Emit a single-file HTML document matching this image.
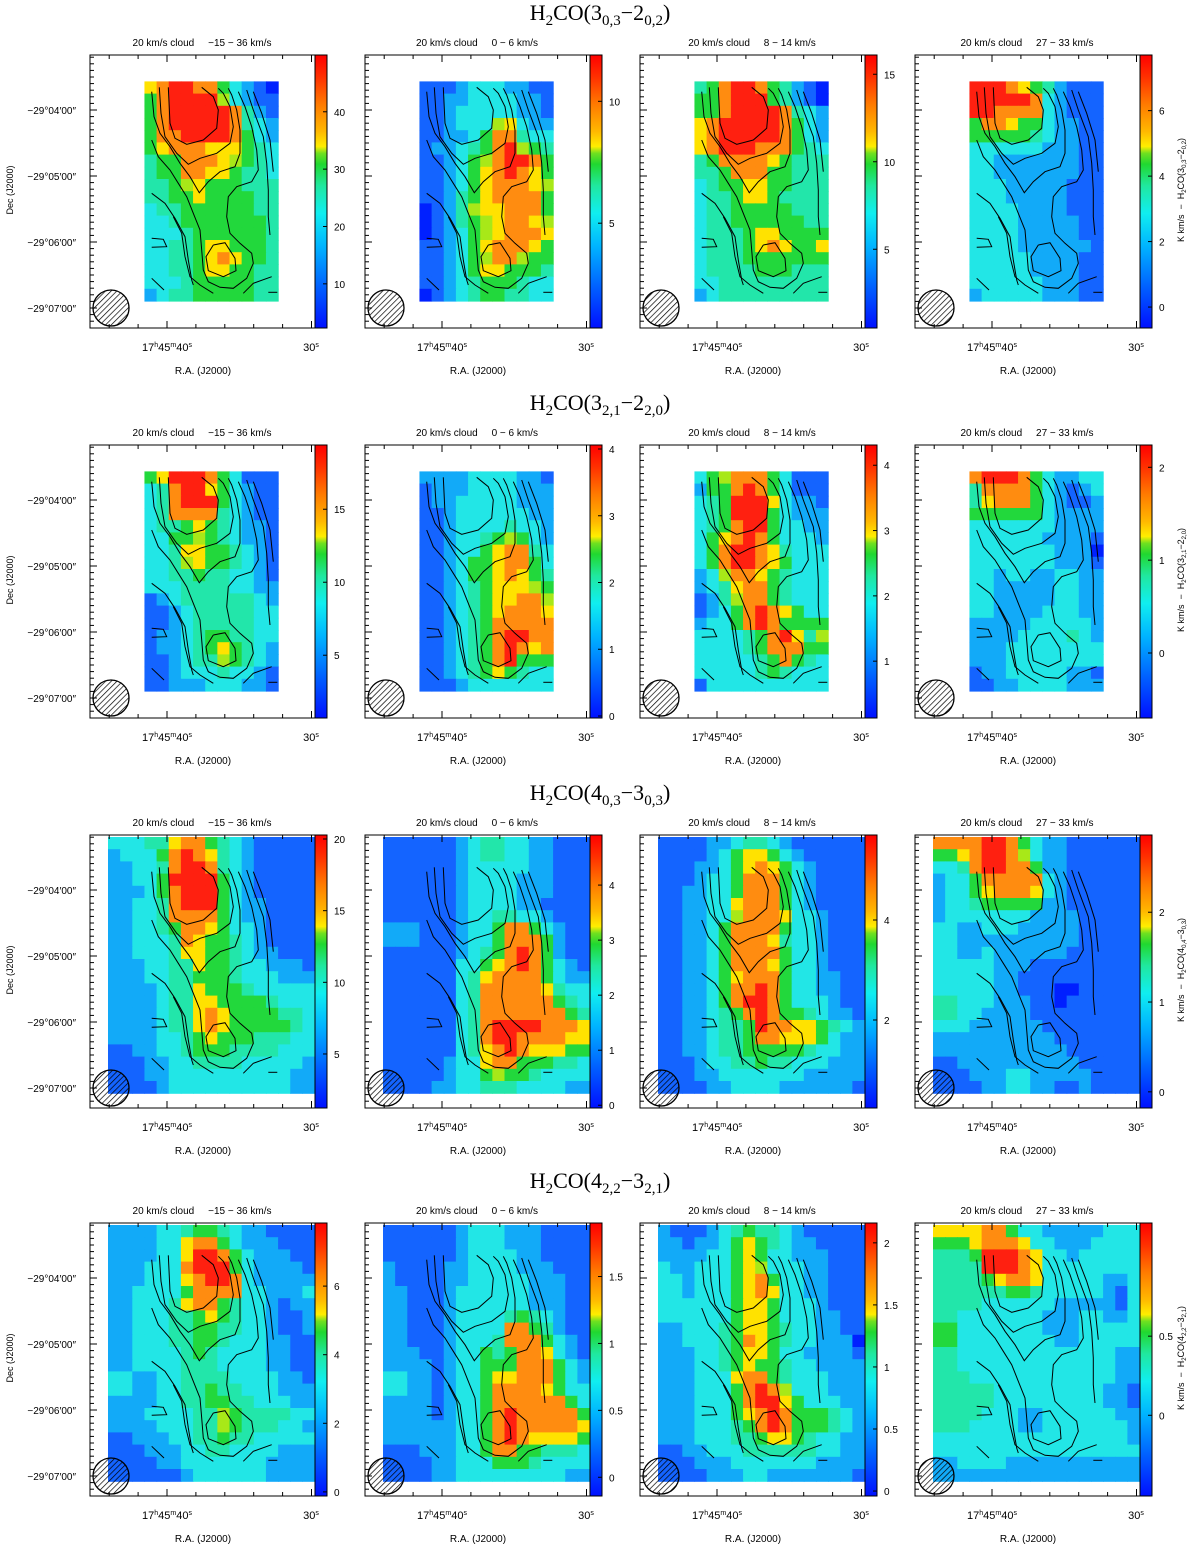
<!DOCTYPE html>
<html><head><meta charset="utf-8"><style>
html,body{margin:0;padding:0;background:#fff;width:1200px;height:1545px;overflow:hidden}
svg text{font-family:"Liberation Sans",sans-serif}
svg text.ttl{font-family:"Liberation Serif",serif}
svg text.pre{white-space:pre}
</style></head><body>
<svg id="fig" width="1200" height="1545" viewBox="0 0 1200 1545" xmlns="http://www.w3.org/2000/svg">
<defs>
<pattern id="hatch" patternUnits="userSpaceOnUse" width="4" height="4" patternTransform="rotate(45)"><line x1="0" y1="0" x2="0" y2="4" stroke="#000" stroke-width="1.4"/></pattern>
<linearGradient id="cmap" x1="0" y1="1" x2="0" y2="0">
<stop offset="0" stop-color="#0010ff"/><stop offset="0.15" stop-color="#0060ff"/><stop offset="0.3" stop-color="#00b4ff"/><stop offset="0.42" stop-color="#10eef0"/><stop offset="0.52" stop-color="#20e8a0"/><stop offset="0.6" stop-color="#20d830"/><stop offset="0.64" stop-color="#70e020"/><stop offset="0.665" stop-color="#ffee00"/><stop offset="0.72" stop-color="#ffb800"/><stop offset="0.82" stop-color="#ff7a00"/><stop offset="0.92" stop-color="#ff3000"/><stop offset="1" stop-color="#ff0000"/>
</linearGradient>
</defs>
</svg>
<script>
// ---- data ----
const rowTitles = [["3","0,3","2","0,2"],["3","2,1","2","2,0"],["4","0,3","3","0,3"],["4","2,2","3","2,1"]];
const rightLabels = [["3","0,3","2","0,2"],["3","2,1","2","2,0"],["4","0,4","3","0,3"],["4","2,2","3","2,1"]];
const velRanges = ["\u221215 \u2212 36 km/s","0 \u2212 6 km/s","8 \u2212 14 km/s","27 \u2212 33 km/s"];
const cbRanges = [[[2.3,49.9],[0.7,11.9],[0.5,16.1],[-0.64,7.7]],[[0.7,19.4],[-0.03,4.06],[0.13,4.31],[-0.7,2.24]],[[1.23,20.28],[-0.05,4.91],[0.24,5.7],[-0.18,2.86]],[[-0.12,7.84],[-0.14,1.9],[-0.04,2.16],[-0.51,1.215]]];
const cbTicks = [[[10,20,30,40],[5,10],[5,10,15],[0,2,4,6]],[[5,10,15],[0,1,2,3,4],[1,2,3,4],[0,1,2]],[[5,10,15,20],[0,1,2,3,4],[2,4],[0,1,2]],[[0,2,4,6],[0,0.5,1,1.5],[0,0.5,1,1.5,2],[0,0.5]]];
const decLabels = ["\u221229\u00b004\u203200\u2033","\u221229\u00b005\u203200\u2033","\u221229\u00b006\u203200\u2033","\u221229\u00b007\u203200\u2033"];
const r1p1=["78998853210","58999963211","58999998421","58999998432","58899998532","57888777543","45588876543","45588775443","44567555444","44557555544","34455555544","33455555554","33345555554","33445775554","33445787554","33445775544","33345555544","23445555544"];
const r1p2=["11123332211","11223333221","11233333221","11233367322","11223588433","12234589654","11235689985","11235789875","11235788876","11245788885","01246778885","01245678876","01235678887","11235788875","11235688655","11235775554","11234555433","01234554433"];
const r1p3=["45899854210","55899954210","55899998432","78999998532","78999998532","78999888543","45888875444","44588855444","34557755444","34457754444","34455555444","34455555544","34445775555","34445787557","34445555555","34444555444","33444444444","23444444444"];
const r1p4=["99987542111","99999832111","99888832111","58875532211","55555432211","33333322211","33222222211","33222222211","33322222111","33322222111","33332222111","33332222211","33332222211","33332222221","33333222211","33333222211","33333322211","23333322211"];
const r2p1=["57999853111","34899753211","34899953211","34888843211","34457543221","33556543221","33477554321","33467554321","33445443321","33344443322","12344444432","11234444433","11234444433","12234554433","12234575432","11234465432","11233343321","11222333221"];
const r2p2=["22223333221","12223333222","12233333222","11233333322","11233334332","11233456532","11233578843","11235578853","11235578754","11234577765","11234577886","11234578887","11234588888","11234589988","11234589878","11234589555","11234575433","11123333333"];
const r2p3=["35688853111","25589853111","34599973221","34599953222","34589953322","35789853332","35899874333","35899875333","23688754333","23478854333","12468854333","12358987533","23358985555","33334589746","33334588855","33333458543","33333454333","13333333333"];
const r2p4=["89998532233","48888532123","47888532112","55555532222","33333332222","33333322221","33333332220","33333332221","33233223322","33222223322","33222223322","33222233322","22222333332","22223333432","22233333333","22233333333","12233333221","11223333222"];
const r3p1=["33344788543211111","23335898743211111","22334899843211111","22335999953211111","22235899953211111","22334899953221111","22334888853221111","22334588753321111","22333487554321111","22333477554322111","22233447554332221","22233445554333222","22223447555433333","22223447755554333","22223447875555443","22223447875555543","22223345755544433","11223345554444333","11122334444333332","11122333333333322","11112333333333322"];
const r3p2=["11111123443322111","11111123443322111","11111123333322111","11111123333222111","11111123333222111","11111123333221111","11111123344332111","22211123358853211","22211123358885211","11111123458985211","11111133578985321","11111134788885322","11111134888887433","11111134888888543","11111134888888854","11111134899998887","11111134899888877","11111134789877755","11111233788555443","11111233565543333","11112233444333322"];
const r3p3=["11112234432111111","11112357753211111","11122357875321111","11123358885321111","11223358885321111","11223378885321111","11223368887332111","11223588885332111","11223588874332111","11223588885332111","11223588875332111","11223578885332211","11223588985332211","11223589985333211","11223458985543221","11223445988775432","11223445887775322","11223445555543322","11123344544333222","11122333333322222","11112233332222221"];
const r3p4=["88889985322111111","55789986322111111","33489988522111111","23358888832111111","23357888732111111","23345555522111111","23333333222211111","33223332222211111","33222222222211111","33223222222111111","33333222111111111","33333221111111111","33333221110011111","44333222110111111","44332222111111111","33322222211111111","22222222221111111","22222222222111111","11222222222211111","11122233222221111","11112233221121111"];
const r4p1=["22223345543221111","22223378853222111","22223379985322211","22233389995322221","22233378998322222","22333358888332223","22333478854332122","22333445754332112","22333445544332112","22333445543332211","22333345433332211","22333344433332211","33223344443333221","33223344544333222","22223344554433322","22233334465444433","22223334465444332","11222334454433333","11122233443333222","11112233333332222","11111123333332222"];
const r4p2=["11111123332221111","11111123332221111","11111123333221111","21111223333222111","21111223333322211","22111233333322211","22111233333322211","22111233334543211","22111233338854211","22111233348885321","22211233545887321","22221233555888532","33221233577888532","33221233588887533","22221233588888853","22221233589888885","22222233589888887","22222233589877775","11122233588554443","11112233355543333","11112233333333322"];
const r4p3=["21112345443211111","22122357543221111","22223357533222111","32233357633322111","33233357853322111","33233357873322111","33333357753332111","33333357753332211","22333457754332211","22333458754332220","22233457753322221","22233457554332222","22233378854333222","22233358986333222","22233358997533322","22233357898555432","22233345898555432","22233344577543322","11223334444443322","11122233333332222","11112223322222221"];
const r4p4=["77778853322222333","55578887332223333","44459998733233333","44449998733333333","44445788733333223","44444455433333213","44443333332222213","44333333322233223","55333333322233333","55333333332233333","44333333333333322","44333333333333322","44433333333333322","44444333333333221","44444333333333221","44443332233333322","44433332233333332","33333333333333332","33333333333333333","22333322222222222","22222222222222222"];
const grids = [[r1p1,r1p2,r1p3,r1p4],[r2p1,r2p2,r2p3,r2p4],[r3p1,r3p2,r3p3,r3p4],[r4p1,r4p2,r4p3,r4p4]];
const levelColors = ["#0020ff","#1464ff","#12aaf8","#22e6e6","#22e6aa","#22d83c","#a8e818","#ffe200","#ff8c10","#ff2010"];
// contour vertices (reference map units)
const contourLines = [
 [[505,172],[510,280],[525,325],[560,343],[610,330],[650,295],[655,240],[640,200],[605,172]],
 [[478,172],[483,250],[495,320],[530,370],[565,403],[600,385],[650,370],[690,340],[700,290],[690,230],[670,190],[655,175]],
 [[455,185],[462,260],[480,310],[510,350],[540,400],[570,440],[598,488],[625,455],[660,425],[705,410],[720,370],[720,300],[710,240],[695,195],[685,175]],
 [[455,330],[475,380],[510,420],[535,460],[560,500],[580,550],[600,600],[605,660],[610,720],[625,755],[660,772],[700,775],[740,745],[760,700],[755,670],[720,640],[690,610],[680,560],[685,500],[710,470],[755,455],[775,420],[770,360],[755,290],[735,230],[715,185]],
 [[740,180],[760,240],[790,320],[800,400],[805,480],[805,560],[810,615]],
 [[760,185],[785,250],[810,330],[820,425]],
 [[455,490],[495,520],[525,565],[555,620],[565,690],[575,750],[580,765]],
 [[455,625],[490,628],[500,650],[455,652]],
 [[455,745],[492,780]],
 [[805,787],[832,787]],
 [[730,790],[760,760],[815,740]],
 [[640,645],[675,638],[705,685],[708,722],[670,740],[625,722],[618,680],[640,645]],
 [[520,560],[545,610],[555,680],[570,740],[600,765],[640,790]]
];
// ---- layout ----
const NS="http://www.w3.org/2000/svg";
const svg=document.getElementById('fig');
const panelLeft=[90,365,640,915], rowTop=[55,445,835,1223];
const FW=225, FH=273, CBW=12, CW=12.15, CH=12.2, GX=18, GY=2;
function mk(tag,attrs,parent){const e=document.createElementNS(NS,tag);for(const k in attrs)e.setAttribute(k,attrs[k]);(parent||svg).appendChild(e);return e;}
function cx(L,c){return L+GX+c*CW;}
function cy(T,r){return T+GY+r*CH;}
function contourX(L,v){return L+v/3-90;}
function contourY(T,v){return T+v/3-25;}

for(let r=0;r<4;r++){
  const T=rowTop[r];
  const p=rowTitles[r];
  const tt=mk('text',{x:600,y:T-35,'font-size':22,'text-anchor':'middle','class':'ttl'});
  
  
  tt.innerHTML='H<tspan font-size="15" dy="5">2</tspan><tspan dy="-5">CO(</tspan>'+p[0]+'<tspan font-size="15" dy="5">'+p[1]+'</tspan><tspan dy="-5">\u2212'+p[2]+'</tspan><tspan font-size="15" dy="5">'+p[3]+'</tspan><tspan dy="-5">)</tspan>';
  for(let c=0;c<4;c++){
    const L=panelLeft[c];
    const g=mk('g',{});
    
    
    const h=mk('text',{x:L+112,y:T-9,'font-size':10,'text-anchor':'middle','class':'pre'},g);
    
    
    h.textContent='20 km/s cloud     '+velRanges[c];
    const hm=mk('g',{},g);
    
    
    const grid=grids[r][c];
    const co=grid[0].length===11?3:0, ro=grid.length===18?2:0;
    grid.forEach((row,ri)=>{for(let ci=0;ci<row.length;ci++){
      const lv=+row[ci];
      const cell=mk('rect',{x:cx(L,ci+co).toFixed(2),y:cy(T,ri+ro).toFixed(2),width:CW+0.6,height:CH+0.6,fill:levelColors[lv]},hm);
      
      
    }});
    const cg=mk('g',{fill:'none',stroke:'#000','stroke-width':1},g);
    
    
    contourLines.forEach(pts=>{
      const pl=mk('polyline',{points:pts.map(q=>contourX(L,q[0]).toFixed(1)+','+contourY(T,q[1]).toFixed(1)).join(' ')},cg);
      
      
    });
    const bm=mk('circle',{cx:L+21,cy:T+253,r:18,fill:'url(#hatch)',stroke:'#000','stroke-width':1.3},g);
    
    
    const fr=mk('rect',{x:L,y:T,width:FW,height:FH,fill:'none',stroke:'#000','stroke-width':1},g);
    
    
    const tk=mk('g',{stroke:'#000','stroke-width':1},g);
    
    
    for(let k=-8;k<=32;k++){const y=T+55+k*6.6;if(y<=T+1||y>=T+FH-1)continue;const len=(k%10===0)?7:4;mk('line',{x1:L,y1:y,x2:L+len,y2:y},tk);}
    for(let k=-2;k<=5;k++){const x=L+77+k*28.9;if(x<=L+1||x>=L+FW)continue;const len=(k===0||k===5)?7:4;mk('line',{x1:x,y1:T+FH,x2:x,y2:T+FH-len},tk);mk('line',{x1:x,y1:T,x2:x,y2:T+len},tk);}
    const xl=mk('text',{x:L+77,y:T+296,'font-size':11,'text-anchor':'middle'},g);
    
    
    xl.innerHTML='17<tspan font-size="7" dy="-4">h</tspan><tspan dy="4">45</tspan><tspan font-size="7" dy="-4">m</tspan><tspan dy="4">40</tspan><tspan font-size="7" dy="-4">s</tspan>';
    const xl2=mk('text',{x:L+221,y:T+296,'font-size':11,'text-anchor':'middle'},g);
    
    
    xl2.innerHTML='30<tspan font-size="7" dy="-4">s</tspan>';
    const xt=mk('text',{x:L+113,y:T+319,'font-size':10,'text-anchor':'middle'},g);
    
    
    xt.textContent='R.A. (J2000)';
    if(c===0){
      decLabels.forEach((s,i)=>{const yl=mk('text',{x:L-14,y:T+55+i*66+4,'font-size':10,'text-anchor':'end'},g);
        
        
        yl.textContent=s;});
      const yt=mk('text',{x:0,y:0,'font-size':9,'text-anchor':'middle',transform:'translate(13,'+(T+135)+') rotate(-90)'},g);
      
      
      yt.textContent='Dec (J2000)';
    }
    const cb=mk('g',{},g);
    
    
    mk('rect',{x:L+FW,y:T,width:CBW,height:FH,fill:'url(#cmap)',stroke:'#000','stroke-width':1},cb);
    const [vmin,vmax]=cbRanges[r][c];
    const vy=v=>T+FH-(v-vmin)/(vmax-vmin)*FH;
    cbTicks[r][c].forEach(v=>{
      const y=vy(v);
      mk('line',{x1:L+FW+CBW-4,y1:y,x2:L+FW+CBW,y2:y,stroke:'#000'},cb);
      const lt=mk('text',{x:L+FW+CBW+7,y:y+4,'font-size':10},cb);
      
      
      lt.textContent=String(v);
    });
  }
  const rl=mk('text',{x:0,y:0,'font-size':9,'text-anchor':'middle','class':'pre',transform:'translate(1184,'+(T+135)+') rotate(-90)'});
  
  
  const q=rightLabels[r];
  rl.innerHTML='K km/s  \u2212  H<tspan font-size="6" dy="2">2</tspan><tspan dy="-2">CO(</tspan>'+q[0]+'<tspan font-size="6" dy="2">'+q[1]+'</tspan><tspan dy="-2">\u2212'+q[2]+'</tspan><tspan font-size="6" dy="2">'+q[3]+'</tspan><tspan dy="-2">)</tspan>';
}
</script>
</body></html>
